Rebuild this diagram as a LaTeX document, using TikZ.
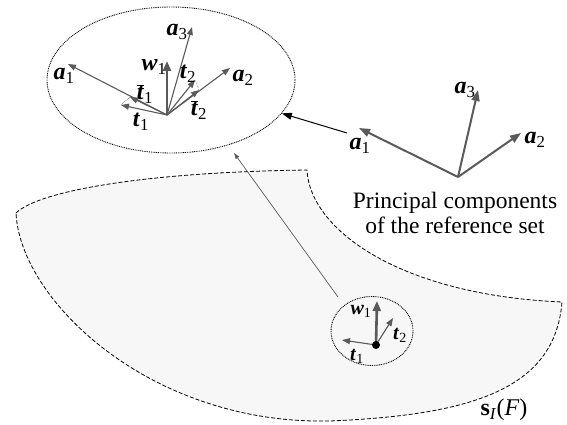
\documentclass[tikz,border=0pt]{standalone}
\usepackage{fontspec}
\setmainfont{Liberation Serif}
\usetikzlibrary{arrows.meta,shapes.geometric}
\definecolor{vec}{HTML}{5A5A5A}
\definecolor{blobfill}{HTML}{F7F7F7}
\newcommand{\bv}[2]{\textbf{\textit{#1}}\textsubscript{#2}}
\newcommand{\bvbar}[2]{$\overline{\mbox{\textbf{\textit{#1}}}}$\textsubscript{#2}}
\begin{document}
\begin{tikzpicture}[x=1pt,y=-1pt,
  vecthin/.style={draw=vec, line width=1.1pt, -{Triangle[length=8pt,width=6pt]}},
  vecthick/.style={draw=vec, line width=2.6pt, -{Triangle[length=10pt,width=8pt]}},
  vecmid/.style={draw=vec, line width=2pt, -{Triangle[length=11pt,width=8pt]}},
  lab/.style={inner sep=0pt, font=\fontsize{24}{26}\selectfont},
  labs/.style={inner sep=0pt, font=\fontsize{20}{22}\selectfont},
  proj/.style={densely dotted, line width=0.6pt, draw=vec},
  dotbound/.style={draw, line width=0.9pt, dash pattern=on 0.9pt off 0.9pt}]
\useasboundingbox (0,0) rectangle (567,425);
% region s_I(F)
\path[fill=blobfill, draw=black, line width=0.8pt, dash pattern=on 4pt off 2pt]
  (16,213) .. controls (40,190) and (150,172) .. (307,170)
  .. controls (310,230) and (400,295) .. (562,302)
  .. controls (555,390) and (470,415) .. (330,421)
  .. controls (150,425) and (20,300) .. (16,213) -- cycle;
\node[lab] (sif) at (504,410) {\textbf{s}\textsubscript{\textit{I}}(\textit{F})};
% big ellipse
\node[dotbound, ellipse, minimum width=248pt, minimum height=146pt, inner sep=0pt] (E) at (171,80) {};
\coordinate (O) at (167,115);
\coordinate (ea1) at (68,64);
\coordinate (ea3) at (192,27);
\coordinate (ew1) at (167,61);
\coordinate (et2) at (195,80);
\coordinate (ea2) at (230,68);
\coordinate (etb2) at (199,90);
\coordinate (etb1) at (130,97);
\coordinate (et1) at (121,105);
\draw[proj] (et1) -- (etb1);
\draw[proj] (et2) -- (etb2);
\draw[vecthin] (O) -- (ea1);
\draw[vecthin] (O) -- (ea3);
\draw[vecthin] (O) -- (ea2);
\draw[vecthin] (O) -- (et2);
\draw[vecthin] (O) -- (etb2);
\draw[vecthin] (O) -- (etb1);
\draw[vecthin] (O) -- (et1);
\draw[vecthick] (O) -- (ew1);
\node[lab] (la1) at (64,76) {\bv{a}{1}};
\node[lab] (la3) at (177,32) {\bv{a}{3}};
\node[lab] (lw1) at (154,67) {\bv{w}{1}};
\node[lab] (lt2) at (188,74) {\bv{t}{2}};
\node[lab] (la2) at (243,78) {\bv{a}{2}};
\node[lab] (ltb1) at (145,94) {\bvbar{t}{1}};
\node[lab] (ltb2) at (199,110) {\bvbar{t}{2}};
\node[lab] (lt1) at (141,122) {\bv{t}{1}};
% principal components
\coordinate (P) at (458,177);
\coordinate (pa1) at (359,128);
\coordinate (pa3) at (478,90);
\coordinate (pa2) at (521,133);
\draw[vecmid] (P) -- (pa1);
\draw[vecmid] (P) -- (pa3);
\draw[vecmid] (P) -- (pa2);
\node[lab] (pla1) at (360,146) {\bv{a}{1}};
\node[lab] (pla3) at (465,90) {\bv{a}{3}};
\node[lab] (pla2) at (535,140) {\bv{a}{2}};
\node[inner sep=0pt, align=center, font=\fontsize{23.5}{25}\selectfont] (txt) at (455,213) {Principal components\\of the reference set};
\coordinate (s1) at (347,133);
\draw[black, line width=1pt, -{Triangle[length=10pt,width=7pt]}] (s1) -- (E);
% small circle
\node[dotbound, ellipse, minimum width=82pt, minimum height=69pt, inner sep=0pt] (C) at (372,331) {};
\coordinate (Q) at (376,345);
\coordinate (cw1) at (377,301);
\coordinate (ct1) at (342,340);
\coordinate (ct2) at (393,318);
\draw[vecthin] (Q) -- (ct1);
\draw[vecthin] (Q) -- (ct2);
\draw[vecthick] (Q) -- (cw1);
\fill[black] (Q) circle[radius=4pt];
\node[labs] (cl1) at (361,311) {\bv{w}{1}};
\node[labs] (cl2) at (400,335) {\bv{t}{2}};
\node[labs] (cl3) at (357,356) {\bv{t}{1}};
% thin connector
\coordinate (c0) at (338,297);
\coordinate (c1) at (234,153);
\draw[vec, line width=0.7pt, -{Triangle[length=6pt,width=4pt]}] (c0) -- (c1);
\end{tikzpicture}
\end{document}
